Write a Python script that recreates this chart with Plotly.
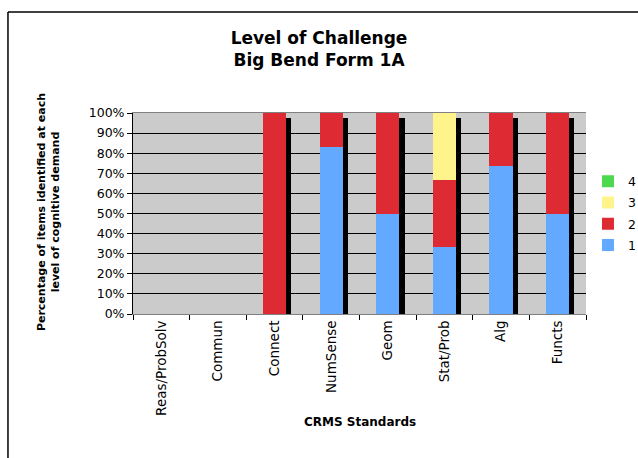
import plotly.graph_objects as go

# data
standards = ["Reas/ProbSolv", "Commun", "Connect", "NumSense", "Geom", "Stat/Prob", "Alg", "Functs"]
level_1 = [0, 0, 0, 0.833, 0.50, 0.333, 0.737, 0.50]
level_2 = [0, 0, 1.00, 0.167, 0.50, 0.333, 0.263, 0.50]
level_3 = [0, 0, 0, 0, 0, 0.334, 0, 0]
level_4 = [0, 0, 0, 0, 0, 0, 0, 0]
yticks = [0, 0.1, 0.2, 0.3, 0.4, 0.5, 0.6, 0.7, 0.8, 0.9, 1.0]

colors = {"1": "#62A9FF", "2": "#DE2A32", "3": "#FFF38C", "4": "#4CD950"}
bar_w = 0.41

fig = go.Figure()
levels = [("1", level_1), ("2", level_2), ("3", level_3), ("4", level_4)]
for i, (name, vals) in enumerate(levels):
    fig.add_trace(go.Bar(x=standards, y=vals, name=name, width=bar_w, legendgroup=name,
                         legendrank=len(levels) - i,
                         marker=dict(color=colors[name], line=dict(width=0))))

# dark "depth" side of the excel 3d columns
totals = [a + b + c + d for a, b, c, d in zip(level_1, level_2, level_3, level_4)]
shadow = [t * 0.975 for t in totals]
fig.add_trace(go.Bar(x=standards, y=shadow, xaxis="x2", showlegend=False,
                     offset=bar_w / 2, width=0.09, hoverinfo="skip",
                     marker=dict(color="black", line=dict(width=0))))

font = "DejaVu Sans, Verdana, sans-serif"
fig.update_layout(
    width=638, height=458,
    margin=dict(l=133, r=52, t=113, b=144, autoexpand=False),
    barmode="stack",
    bargap=0.59,
    paper_bgcolor="white",
    plot_bgcolor="#CBCBCB",
    font=dict(family=font, size=12, color="black"),
    title=dict(text="<b>Level of Challenge<br>Big Bend Form 1A</b>", x=0.5, xanchor="center",
               y=0.904, yanchor="top", font=dict(size=17, family=font)),
    xaxis=dict(categoryorder="array", categoryarray=standards, tickangle=-90,
               ticks="outside", tickson="boundaries", ticklen=5, tickcolor="black",
               showline=True, linecolor="#808080", linewidth=1, mirror=True,
               showgrid=False, tickfont=dict(size=13.5), range=[-0.5, 7.5]),
    xaxis2=dict(overlaying="x", matches="x", visible=False,
                categoryorder="array", categoryarray=standards),
    yaxis=dict(range=[0, 1], tickvals=yticks, tickformat=".0%", ticks="outside",
               ticklen=5, tickcolor="black", showline=True, linecolor="black",
               gridcolor="black", gridwidth=1, zeroline=False,
               tickfont=dict(size=12.5)),
    legend=dict(xref="container", yref="container", x=0.9216, y=0.636,
                xanchor="left", yanchor="top",
                traceorder="grouped", font=dict(size=12.5),
                itemwidth=30, tracegroupgap=2, bgcolor="rgba(0,0,0,0)"),
    showlegend=True,
)

fig.add_annotation(text="<b>Percentage of items identified at each<br>level of cognitive demand</b>",
                   xref="paper", yref="paper", x=-0.1876, y=0.507, textangle=-90,
                   xanchor="center", yanchor="middle",
                   showarrow=False, font=dict(size=11, family=font))
fig.add_annotation(text="<b>CRMS Standards</b>", xref="paper", yref="paper",
                   x=0.5, y=-0.582, showarrow=False, font=dict(size=12, family=font))

# outer chart frame (only top and left visible in the crop)
fig.add_shape(type="line", xref="paper", yref="paper", x0=-0.276, x1=1.2, y0=1.502, y1=1.502,
              line=dict(color="black", width=1.5))
fig.add_shape(type="line", xref="paper", yref="paper", x0=-0.276, x1=-0.276, y0=1.502, y1=-0.8,
              line=dict(color="black", width=1.5))

# drop the page's default body margin so the figure sits at the window's corner
fig.write_html("out.html", config={"displayModeBar": False},
               post_script="document.body.style.margin = '0';")
